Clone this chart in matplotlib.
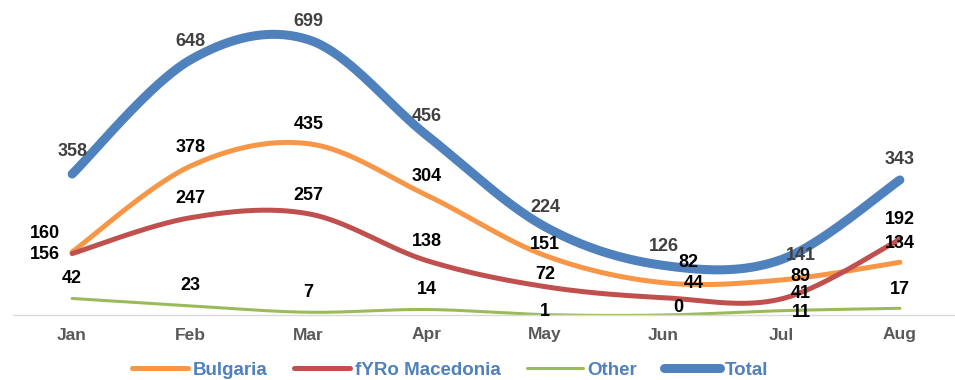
import matplotlib
matplotlib.use("Agg")
import matplotlib.pyplot as plt
import numpy as np

plt.rcParams['font.family'] = ['Liberation Sans', 'DejaVu Sans']

months = ['Jan', 'Feb', 'Mar', 'Apr', 'May', 'Jun', 'Jul', 'Aug']
bulgaria = [160, 378, 435, 304, 151, 82, 89, 134]
macedonia = [156, 247, 257, 138, 72, 44, 41, 192]
other = [42, 23, 7, 14, 1, 0, 11, 17]
total = [358, 648, 699, 456, 224, 126, 141, 343]

series_names = ['Bulgaria', 'fYRo Macedonia', 'Other', 'Total']

# label offsets in pixels (dx, dy), hand placed like in the source chart
offsets = {
    'Bulgaria': [(-27, 19), (0, 19), (0, 19), (0, 19), (0, 11), (25, 20), (19, 3), (0, 19)],
    'fYRo Macedonia': [(-27, -1), (0, 19), (0, 18), (0, 19), (0, 12), (30, 14), (19, 5), (0, 20)],
    'Other': [(0, 20), (0, 20), (0, 20), (0, 20), (0, 3), (15, 8), (20, -2), (0, 19)],
    'Total': [(0, 23), (0, 18), (0, 18), (0, 19), (0, 19), (0, 19), (19, 4), (0, 20)],
}
styles = {
    'Bulgaria': dict(color='#F79646', lw=3.6),
    'fYRo Macedonia': dict(color='#C0504D', lw=3.6),
    'Other': dict(color='#9BBB59', lw=2.2),
    'Total': dict(color='#4F81BD', lw=6.5),
}


def smooth(xs, ys, n=40):
    # excel-like smoothed line: bezier segments with catmull-rom control points
    pts = np.column_stack([xs, ys]).astype(float)
    out = []
    for i in range(len(pts) - 1):
        p0 = pts[i - 1] if i > 0 else pts[i]
        p1, p2 = pts[i], pts[i + 1]
        p3 = pts[i + 2] if i + 2 < len(pts) else pts[i + 1]
        c1 = p1 + (p2 - p0) / 6
        c2 = p2 - (p3 - p1) / 6
        t = np.linspace(0, 1, n)[:, None]
        seg = (1 - t) ** 3 * p1 + 3 * (1 - t) ** 2 * t * c1 + 3 * (1 - t) * t ** 2 * c2 + t ** 3 * p2
        out.append(seg if i == 0 else seg[1:])
    seg = np.vstack(out)
    return seg[:, 0], seg[:, 1]


fig = plt.figure(figsize=(9.55, 3.8), dpi=100)
ax = fig.add_axes([13 / 955, 65 / 380, 946 / 955, 315 / 380])

x = np.arange(len(months))
data = {'Bulgaria': bulgaria, 'fYRo Macedonia': macedonia, 'Other': other, 'Total': total}

for name in series_names:
    vals = data[name]
    sx, sy = smooth(x, vals)
    ax.plot(sx, sy, solid_capstyle='round', label=name, **styles[name])
    txt_color = '#404040' if name == 'Total' else 'black'
    for i, v in enumerate(vals):
        dx, dy = offsets[name][i]
        ax.annotate(str(v), (x[i], v), xytext=(dx, dy), textcoords='offset pixels',
                    ha='center', va='center', fontsize=13, fontweight='bold', color=txt_color)

ax.set_xlim(-0.5, len(months) - 0.5)
ax.set_ylim(0, 800)
ax.set_xticks(x)
ax.set_xticklabels(months, fontsize=12.5, fontweight='bold', color='#595959')
ax.tick_params(axis='x', length=0, pad=9)
ax.set_yticks([])
for s in ['top', 'right', 'left']:
    ax.spines[s].set_visible(False)
ax.spines['bottom'].set_color('#D9D9D9')
ax.spines['bottom'].set_linewidth(1)

leg = fig.legend(loc='center', bbox_to_anchor=(450 / 955, 10 / 380), ncol=4, frameon=False,
                 handlelength=3.0, handletextpad=0.25, columnspacing=1.4,
                 prop={'weight': 'bold', 'size': 13.5})
for t in leg.get_texts():
    t.set_color('#4F81BD')

fig.savefig('out.png', dpi=100)
